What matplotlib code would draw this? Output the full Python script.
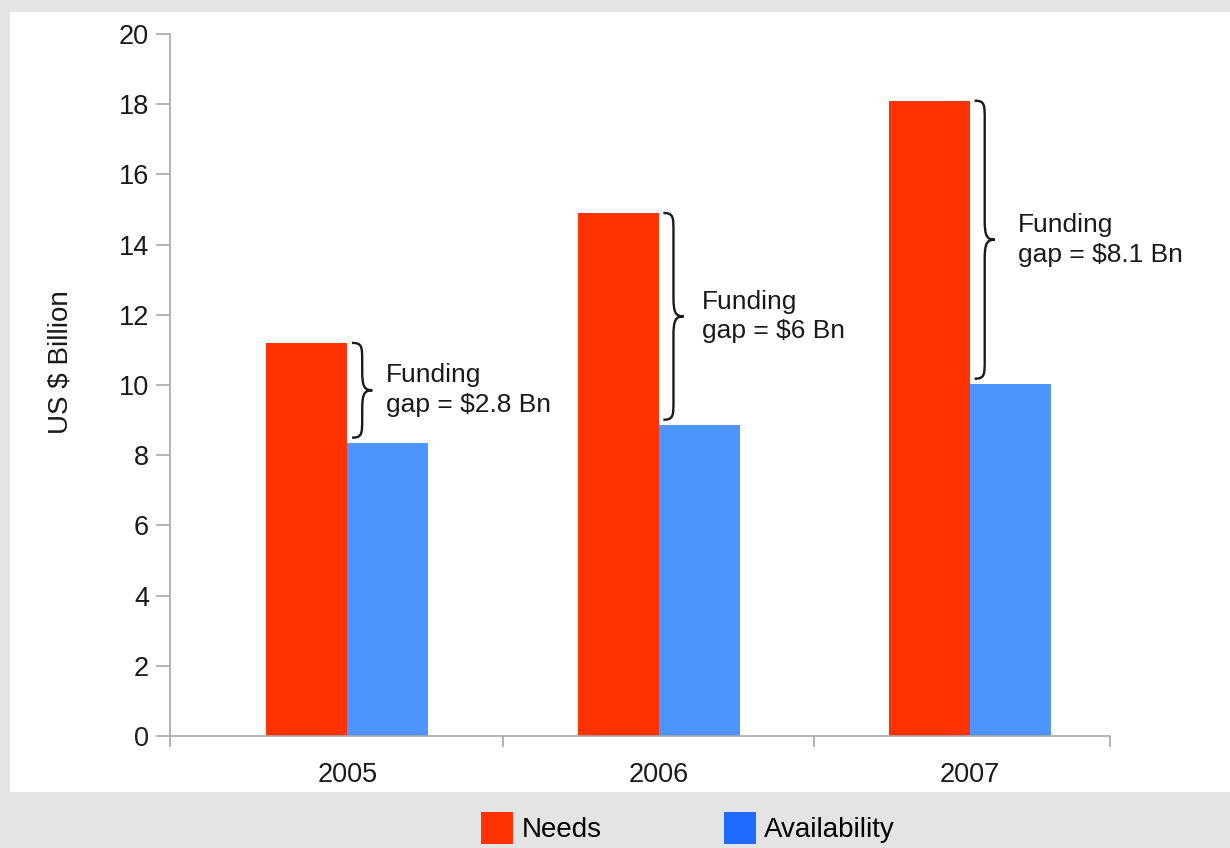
import matplotlib.pyplot as plt
from matplotlib.patches import Rectangle, Patch
from matplotlib.path import Path
from matplotlib.patches import PathPatch
import numpy as np

plt.rcParams['font.family'] = ['Liberation Sans', 'DejaVu Sans']

years = ['2005', '2006', '2007']
needs = [11.2, 14.9, 18.1]
availability = [8.35, 8.86, 10.03]
gap_labels = ['Funding\ngap = $2.8 Bn', 'Funding\ngap = $6 Bn', 'Funding\ngap = $8.1 Bn']

red = '#ff3300'
blue = '#4f95ff'
bar_w = 0.26
ink = '#1a1a1a'


def brace(ax, x, ytop, ybot, w, r):
    # curly brace opening to the right, tip at (x+w, middle)
    ym = (ytop + ybot) / 2
    xm = x + w * 0.5
    verts = [(x, ytop),
             (xm, ytop), (xm, ytop - r * 0.2), (xm, ytop - r),
             (xm, ym + r),
             (xm, ym + r * 0.2), (x + w * 0.6, ym), (x + w, ym),
             (x + w * 0.6, ym), (xm, ym - r * 0.2), (xm, ym - r),
             (xm, ybot + r),
             (xm, ybot + r * 0.2), (xm, ybot), (x, ybot)]
    codes = [Path.MOVETO,
             Path.CURVE4, Path.CURVE4, Path.CURVE4,
             Path.LINETO,
             Path.CURVE4, Path.CURVE4, Path.CURVE4,
             Path.CURVE4, Path.CURVE4, Path.CURVE4,
             Path.LINETO,
             Path.CURVE4, Path.CURVE4, Path.CURVE4]
    ax.add_patch(PathPatch(Path(verts, codes), fill=False, lw=1.7, color=ink))


fig = plt.figure(figsize=(12.3, 8.48), dpi=100)
fig.patch.set_facecolor('#e4e4e4')
fig.patches.append(Rectangle((10 / 1230, 1 - 792 / 848), 1, (792 - 12) / 848,
                             transform=fig.transFigure, facecolor='white',
                             edgecolor='none', zorder=-5))

ax = fig.add_axes([170 / 1230, 1 - 736 / 848, 940 / 1230, 702 / 848])
ax.set_facecolor('none')

x = np.arange(len(years))
ax.bar(x - bar_w / 2, needs, bar_w, color=red, zorder=2)
ax.bar(x + bar_w / 2, availability, bar_w, color=blue, zorder=2)

for i in range(len(years)):
    brace(ax, x[i] + 0.015, needs[i], availability[i] + 0.15, 0.065, 0.55)
    mid = (needs[i] + availability[i] + 0.15) / 2
    ax.text(x[i] + 0.125 + 0.015 * i, mid, gap_labels[i], fontsize=19, color=ink,
            va='center', ha='left', linespacing=1.3)

ax.set_xlim(-0.57, 2.45)
ax.set_ylim(0, 20)
ax.set_yticks(range(0, 21, 2))
ax.set_xticks(x)
ax.set_xticklabels(years)
ax.set_xticks([-0.57, 0.5, 1.5, 2.45], minor=True)

for s in ['top', 'right']:
    ax.spines[s].set_visible(False)
for s in ['left', 'bottom']:
    ax.spines[s].set_color('#a8a8a8')
    ax.spines[s].set_linewidth(1.2)
ax.tick_params(axis='y', length=10, width=1.2, color='#a8a8a8', labelsize=19.5,
               labelcolor=ink, pad=5)
ax.tick_params(axis='x', which='major', length=0, labelsize=19.5,
               labelcolor=ink, pad=19)
ax.tick_params(axis='x', which='minor', length=8, width=1.2, color='#a8a8a8')

fig.text(60 / 1230, 1 - 362 / 848, 'US $ Billion', rotation=90, fontsize=20,
         color=ink, ha='center', va='center')

handles = [Patch(facecolor='#ff3300'), Patch(facecolor='#1f6bff')]
fig.legend(handles, ['Needs', 'Availability'], loc='center',
           bbox_to_anchor=(688 / 1230, 1 - 828 / 848), ncol=2, frameon=False,
           fontsize=20, handlelength=1.15, handleheight=1.35, handletextpad=0.3,
           columnspacing=4.4, borderpad=0)

fig.savefig('out.png', dpi=100, facecolor=fig.get_facecolor())
